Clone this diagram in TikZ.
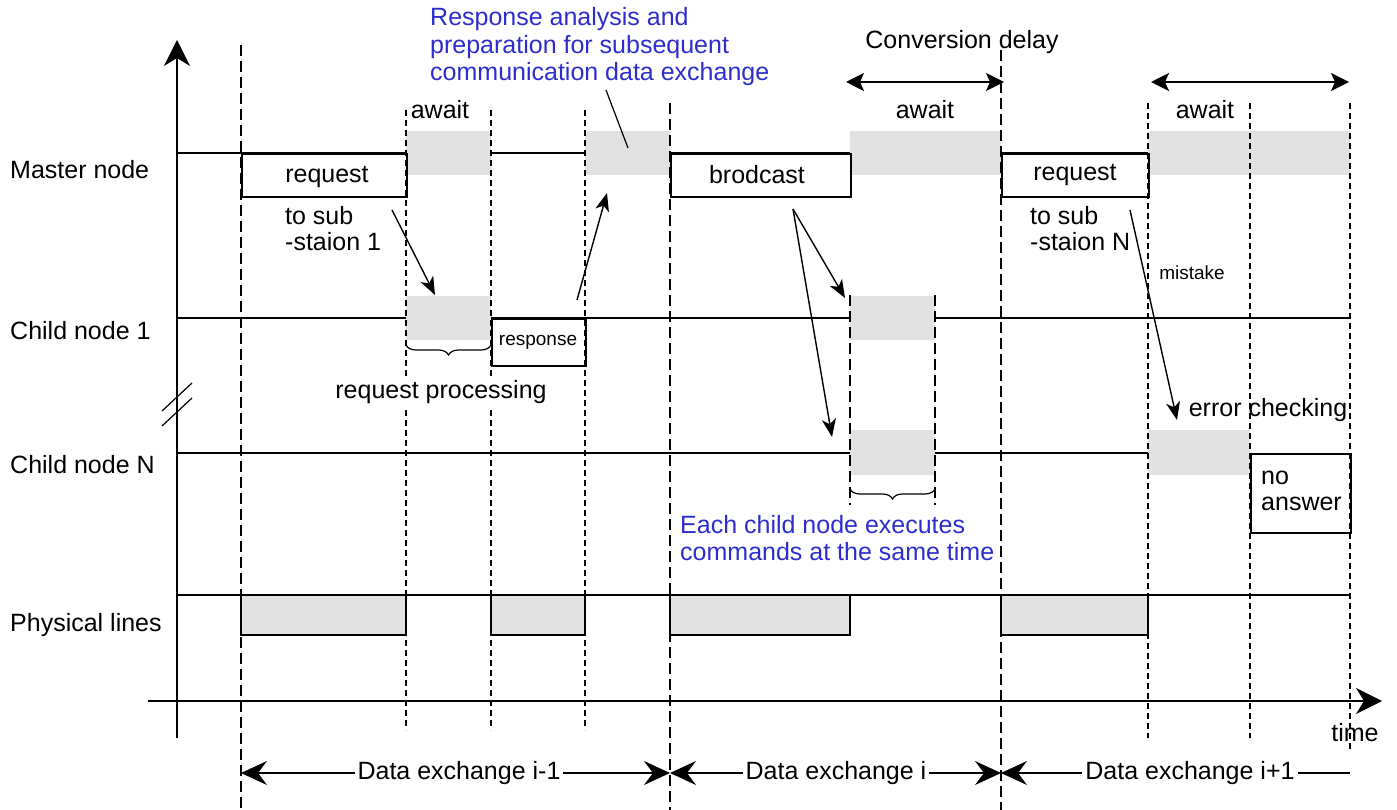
\documentclass[tikz,border=0pt]{standalone}
\usepackage{fontspec}
\setmainfont{Liberation Sans}
\usetikzlibrary{arrows.meta,decorations.pathreplacing}
\definecolor{shade}{RGB}{225,225,225}
\definecolor{noteblue}{RGB}{45,45,205}
\begin{document}
\begin{tikzpicture}[x=1pt,y=-1pt,
  lbl/.style={font=\fontsize{25}{26}\selectfont, inner sep=0pt, align=left},
  smalllbl/.style={font=\fontsize{19}{22}\selectfont, inner sep=0pt},
  note/.style={font=\fontsize{25}{27.5}\selectfont, inner sep=0pt, align=left, text=noteblue},
  lane/.style={line width=1.6pt},
  shadebox/.style={fill=shade},
  msgbox/.style={draw, fill=white, line width=1.6pt, inner sep=0pt, anchor=north west},
  physbox/.style={draw, fill=shade, line width=1.6pt},
  longdash/.style={dash pattern=on 11pt off 5pt, line width=1.1pt},
  shortdash/.style={dash pattern=on 6pt off 4pt, line width=1.1pt},
  arr/.style={-{Stealth[length=18pt,width=14pt,inset=5pt]}, line width=1.4pt},
  dimarr/.style={{Stealth[length=18pt,width=18pt,inset=4pt]}-{Stealth[length=18pt,width=18pt,inset=4pt]}, line width=1.8pt},
  dxboth/.style={{Stealth[length=26pt,width=24pt,inset=9pt]}-{Stealth[length=26pt,width=24pt,inset=9pt]}, line width=1.6pt},
  dxleft/.style={{Stealth[length=26pt,width=24pt,inset=9pt]}-, line width=1.6pt},
  axisarr/.style={-{Stealth[length=26pt,width=26pt,inset=8pt]}, line width=1.6pt},
  bracepath/.style={decorate, decoration={brace, mirror, amplitude=10pt}, line width=1.2pt}
]
\useasboundingbox (0,0) rectangle (1397,810);

% lane lines
\draw[lane] (177,153) coordinate (ml0) -- (1350,153) coordinate (ml1);
\draw[lane] (177,318) coordinate (cl0) -- (1350,318) coordinate (cl1);
\draw[lane] (177,453) coordinate (nl0) -- (1250,453) coordinate (nl1);
\draw[lane] (177,595) coordinate (pl0) -- (1350,595) coordinate (pl1);

% shaded (busy / waiting) intervals
\fill[shadebox] (406,131) rectangle (491,175);
\fill[shadebox] (585,131) rectangle (670,175);
\fill[shadebox] (850,131) rectangle (1001,175);
\fill[shadebox] (1148,131) rectangle (1350,175);
\fill[shadebox] (406,296) rectangle (491,340);
\fill[shadebox] (850,296) rectangle (935,340);
\fill[shadebox] (850,430) rectangle (935,475);
\fill[shadebox] (1148,430) rectangle (1250,475);

% message boxes
\node[msgbox, minimum width=165pt, minimum height=43pt] (req1) at (241,153) {};
\node[lbl] (req1t) at (327,177) {request};
\node[msgbox, minimum width=180pt, minimum height=43pt] (bcast) at (670,153) {};
\node[lbl] (bcastt) at (757,175) {brodcast};
\node[msgbox, minimum width=147pt, minimum height=43pt] (reqN) at (1001,153) {};
\node[lbl] (reqNt) at (1075,175) {request};
\node[msgbox, minimum width=94pt, minimum height=47pt] (resp) at (491,318) {};
\node[smalllbl] (respt) at (538,342) {response};
\node[msgbox, minimum width=100pt, minimum height=79pt] (noans) at (1250,453) {};
\node[lbl, anchor=west] (noanst) at (1261,491) {no\\answer};

% physical line occupancy
\draw[physbox] (241,595) rectangle (406,635);
\draw[physbox] (491,595) rectangle (585,635);
\draw[physbox] (670,595) rectangle (850,635);
\draw[physbox] (1001,595) rectangle (1148,635);

% axes
\draw[axisarr] (177,738) coordinate (ya0) -- (177,40) coordinate (ya1);
\draw[axisarr] (148,701) coordinate (xa0) -- (1382,701) coordinate (xa1);
\draw[line width=1.2pt] (162,411) -- (192,383);
\draw[line width=1.2pt] (162,426) -- (192,398);

% vertical dashed time marks
\draw[longdash] (241,45) -- (241,810);
\draw[shortdash] (406,110) -- (406,730);
\draw[shortdash] (491,110) -- (491,730);
\draw[shortdash] (585,110) -- (585,730);
\draw[longdash] (670,103) -- (670,810);
\draw[longdash] (850,295) -- (850,505);
\draw[longdash] (935,295) -- (935,505);
\draw[longdash] (1001,50) -- (1001,810);
\draw[shortdash] (1148,103) -- (1148,738);
\draw[shortdash] (1250,103) -- (1250,738);
\draw[shortdash] (1350,103) -- (1350,752);

% braces
\draw[bracepath] (406,345) -- (491,345);
\draw[bracepath] (850,489) -- (935,489);

% left labels
\node[lbl, anchor=west] (master) at (10,170) {Master node};
\node[lbl, anchor=west] (child1) at (10,331) {Child node 1};
\node[lbl, anchor=west] (childN) at (10,465) {Child node N};
\node[lbl, anchor=west] (phys) at (10,625) {Physical lines};

% other labels
\node[lbl] (await1) at (440,110) {await};
\node[lbl] (await2) at (925,110) {await};
\node[lbl] (await3) at (1205,110) {await};
\node[lbl] (convd) at (962,42) {Conversion delay};
\node[lbl, anchor=west] (tosub1) at (285,229) {to sub\\-staion 1};
\node[lbl, anchor=west] (tosubN) at (1030,229) {to sub\\-staion N};
\node[smalllbl] (mist) at (1192,273) {mistake};
\node[lbl, fill=white, inner sep=2pt] (reqproc) at (441,392) {request processing};
\node[lbl] (errchk) at (1268,410) {error checking};
\node[lbl] (timel) at (1355,733) {time};
\node[note, anchor=west] (respnote) at (430,47) {Response analysis and\\preparation for subsequent\\communication data exchange};
\node[note, anchor=west] (execnote) at (680,538) {Each child node executes\\commands at the same time};

% dimension arrows
\draw[dimarr] (846,82) coordinate (cd0) -- (1004,82) coordinate (cd1);
\draw[dimarr] (1151,82) coordinate (cd2) -- (1349,82) coordinate (cd3);
\draw[dxboth] (241,773) coordinate (de0) -- (670,773) coordinate (de1);
\draw[dxboth] (670,773) coordinate (de2) -- (1001,773) coordinate (de3);
\draw[dxleft] (1001,773) coordinate (de4) -- (1350,773) coordinate (de5);
\node[lbl, fill=white, inner xsep=3pt, inner ysep=2pt] (dx1) at (459,773) {Data exchange i-1};
\node[lbl, fill=white, inner xsep=3pt, inner ysep=2pt] (dx2) at (836,773) {Data exchange i};
\node[lbl, fill=white, inner xsep=3pt, inner ysep=2pt] (dx3) at (1190,773) {Data exchange i+1};

% message arrows
\coordinate (p1s) at (392,210); \coordinate (p1e) at (435,295);
\draw[arr] (p1s) -- (p1e);
\coordinate (p2s) at (577,300); \coordinate (p2e) at (607,193);
\draw[arr] (p2s) -- (p2e);
\coordinate (p3s) at (793,209); \coordinate (p3e) at (845,298);
\draw[arr] (p3s) -- (p3e);
\coordinate (p4e) at (832,437);
\draw[arr] (p3s) -- (p4e);
\coordinate (p5s) at (1130,210); \coordinate (p5e) at (1177,420);
\draw[arr] (p5s) -- (p5e);
\coordinate (n1s) at (606,90); \coordinate (n1e) at (628,148);
\draw[line width=1.2pt] (n1s) -- (n1e);
\end{tikzpicture}
\end{document}
